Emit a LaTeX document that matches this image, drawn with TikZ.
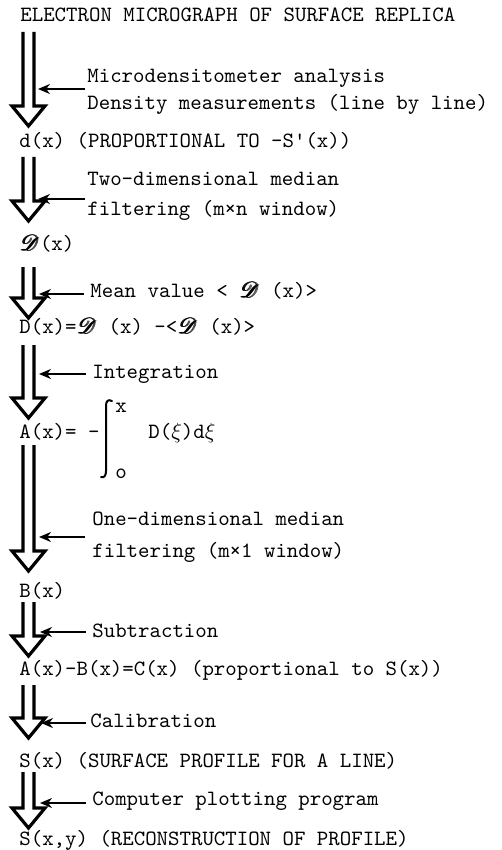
\documentclass[tikz,border=0pt]{standalone}
\usepackage{mathrsfs}
\usetikzlibrary{arrows.meta,calc}
\newcommand{\sD}{\mbox{\rlap{$\mathscr{D}$}\kern0.4pt\rlap{$\mathscr{D}$}\kern0.4pt$\mathscr{D}$}}
\newcommand{\bigarr}[2]{%
  \draw[bigshaft] ($(#1)+(-5.5,0)$) -- ($(#2)+(-5.5,-20)$) -- ($(#2)+(-16.5,-20)$) -- (#2)
    -- ($(#2)+(16.5,-20)$) -- ($(#2)+(5.5,-20)$) -- ($(#1)+(5.5,0)$);}
\begin{document}
\begin{tikzpicture}[x=0.5pt,y=-0.5pt,
  txt/.style={anchor=base west, inner sep=0pt, font=\ttfamily\fontsize{10.9}{12}\selectfont},
  bigshaft/.style={line width=1.6pt, line join=miter, miter limit=10},
  smallarr/.style={line width=1pt, -{Stealth[length=6pt,width=5pt]}},
  intg/.style={line width=1pt, line cap=round}]
\fill[white] (0,0) rectangle (502,850);
\useasboundingbox (0,0) rectangle (502,850);
% main texts
\node[txt] (t0) at (20,22) {ELECTRON MICROGRAPH OF SURFACE REPLICA};
\node[txt] (t1) at (19,148) {d(x) (PROPORTIONAL TO -S\textquotesingle(x))};
\node[txt] (t2) at (19,250) {\sD(x)};
\node[txt] (t3) at (19,333) {D(x)=\sD\ (x) -<\sD\ (x)>};
\node[txt] (t4) at (19,438) {A(x)= -};
\node[txt] (t4b) at (148,438) {D($\xi$)d$\xi$};
\node[txt] (t4x) at (115,412) {x};
\node[txt] (t4o) at (115,478) {o};
\node[txt] (t5) at (19,597) {B(x)};
\node[txt] (t6) at (19,675) {A(x)-B(x)=C(x) (proportional to S(x))};
\node[txt] (t7) at (19,767) {S(x) (SURFACE PROFILE FOR A LINE)};
\node[txt] (t8) at (19,845) {S(x,y) (RECONSTRUCTION OF PROFILE)};
% integral sign
\draw[intg] (112,401) .. controls (108,399) and (106,401) .. (106,406) -- (106,471)
  .. controls (106,476) and (104,478) .. (101,477);
% labels
\node[txt] (l1a) at (87,83) {Microdensitometer analysis};
\node[txt] (l1b) at (87,110) {Density measurements (line by line)};
\node[txt] (l2a) at (87,185) {Two-dimensional median};
\node[txt] (l2b) at (87,215) {filtering (m\texttimes n window)};
\node[txt] (l3) at (90,297) {Mean value < \sD\ (x)>};
\node[txt] (l4) at (92,378) {Integration};
\node[txt] (l5a) at (92,525) {One-dimensional median};
\node[txt] (l5b) at (92,557) {filtering (m\texttimes 1 window)};
\node[txt] (l6) at (92,637) {Subtraction};
\node[txt] (l7) at (90,727) {Calibration};
\node[txt] (l8) at (92,805) {Computer plotting program};
% big arrow coordinates
\coordinate (a1s) at (28.5,32);  \coordinate (a1e) at (28.5,126);
\coordinate (a2s) at (28.5,157); \coordinate (a2e) at (28.5,221);
\coordinate (a3s) at (28.5,267); \coordinate (a3e) at (28.5,318);
\coordinate (a4s) at (28.5,345); \coordinate (a4e) at (28.5,418);
\coordinate (a5s) at (28.5,445); \coordinate (a5e) at (28.5,571);
\coordinate (a6s) at (28.5,602); \coordinate (a6e) at (28.5,656);
\coordinate (a7s) at (28.5,685); \coordinate (a7e) at (28.5,738);
\coordinate (a8s) at (28.5,772); \coordinate (a8e) at (28.5,828);
\bigarr{a1s}{a1e}
\bigarr{a2s}{a2e}
\bigarr{a3s}{a3e}
\bigarr{a4s}{a4e}
\bigarr{a5s}{a5e}
\bigarr{a6s}{a6e}
\bigarr{a7s}{a7e}
\bigarr{a8s}{a8e}
% small arrows
\coordinate (s1) at (85,89);  \coordinate (e1) at (38,89);
\coordinate (s2) at (85,199); \coordinate (e2) at (38,199);
\coordinate (s3) at (84,294); \coordinate (e3) at (39,294);
\coordinate (s4) at (86,374); \coordinate (e4) at (39,374);
\coordinate (s5) at (85,537); \coordinate (e5) at (39,537);
\coordinate (s6) at (86,632); \coordinate (e6) at (40,632);
\coordinate (s7) at (86,723); \coordinate (e7) at (41,723);
\coordinate (s8) at (86,803); \coordinate (e8) at (40,803);
\foreach \i in {1,...,8} {\draw[smallarr] (s\i) -- (e\i);}
\end{tikzpicture}
\end{document}
